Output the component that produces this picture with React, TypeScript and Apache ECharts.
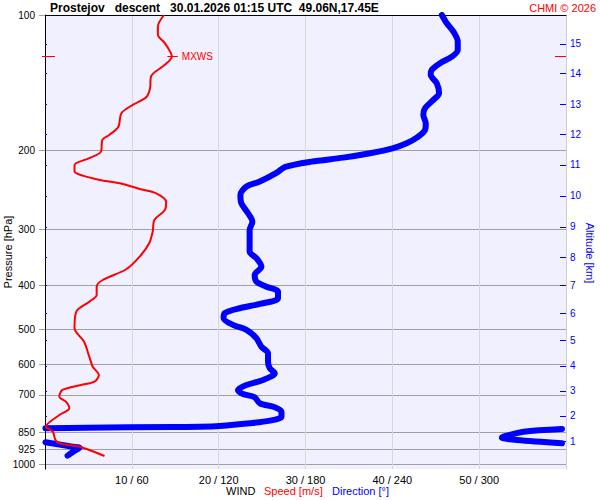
import React, { useEffect, useRef } from "react";
import * as echarts from "echarts";

// ---- data ----
const PRESSURE_TICKS = [100, 200, 300, 400, 500, 600, 700, 850, 925, 1000];
const SPEED_TICKS = [10, 20, 30, 40, 50];
const ALT_KM = [1, 2, 3, 4, 5, 6, 7, 8, 9, 10, 11, 12, 13, 14, 15];
const ALT_P = [890.2, 780.3, 686.6, 603.9, 530.5, 461.0, 400.4, 346.7, 296.2, 252.7, 215.6, 184.2, 157.9, 134.7, 116.0];

const SPEED_P = [100, 106.1, 110.7, 115.5, 121.6, 123.8, 129.1, 137.1, 145.5, 152.4, 158.5, 165.4, 177.2, 184.9, 189.7, 201.4, 208.3, 215.6, 223.1, 227.8, 232.8, 236.8, 243.8, 249.3, 260.3, 271.6, 285.8, 303.5, 322.0, 344.9, 368.0, 388.8, 402.3, 419.8, 434.5, 457.3, 497.9, 533.4, 575.9, 606.2, 632.4, 654.5, 665.7, 683.0, 706.9, 725.3, 750.2, 776.5, 824.5, 845.8, 882.6, 897.5, 913.3, 928.9, 957.9];
const SPEED = [13.7, 13.0, 13.0, 13.8, 14.5, 14.6, 13.8, 12.2, 12.1, 11.65, 10.1, 8.8, 8.45, 7.4, 6.6, 6.45, 5.1, 3.4, 3.4, 4.35, 6.3, 8.6, 10.9, 12.8, 13.95, 13.8, 12.6, 12.4, 12.0, 10.9, 9.35, 6.65, 5.95, 5.95, 5.1, 3.6, 3.4, 4.5, 5.1, 5.5, 6.2, 5.7, 4.15, 2.0, 1.65, 2.4, 2.8, 1.65, 0.1, 0.9, 1.2, 1.65, 4.0, 5.1, 6.85];

const DIR_P = [100, 104.3, 108.9, 114.6, 119.6, 123.8, 128.0, 132.5, 135.9, 141.8, 149.3, 154.5, 161.2, 166.9, 174.1, 180.2, 187.5, 192.9, 198.0, 203.0, 207.7, 212.0, 217.8, 224.6, 234.8, 240.9, 251.4, 262.5, 276.1, 288.3, 300.9, 316.7, 336.2, 347.8, 363.1, 378.9, 392.1, 402.3, 412.7, 426.8, 439.5, 449.3, 461.0, 472.9, 489.4, 502.1, 524.0, 547.1, 565.9, 590.8, 611.1, 627.1, 648.9, 665.7, 683.0, 697.2, 709.1, 731.2, 746.4, 763.4, 783.2, 799.4, 810.2, 821.4, 824.5, 825.6, 828.6, 831.2, null, 833.9, 845.8, 867.7, 872.3, 882.6, 897.5, null, 893.0, 913.3, 918.0, 937.0, 956.4];
const DIR = [274.2, 277.6, 282.2, 285.2, 285.2, 281.1, 273.0, 267.2, 266.5, 270.7, 272.3, 268.3, 262.6, 261.4, 263.1, 262.6, 256.9, 249.9, 240.2, 224.5, 206.0, 184.0, 166.0, 159.9, 148.4, 139.2, 135.0, 135.7, 140.3, 143.3, 141.4, 141.4, 141.4, 146.1, 149.5, 144.9, 146.1, 153.0, 161.0, 161.0, 148.4, 134.5, 124.1, 123.4, 129.9, 139.2, 146.1, 149.5, 154.1, 154.1, 155.3, 158.8, 150.7, 139.2, 133.3, 136.8, 144.9, 148.4, 158.8, 163.4, 163.4, 155.3, 141.4, 120.7, 106.8, 88.3, 28.4, 0.3, null, 357.2, 330.7, 316.8, 315.7, 326.1, 357.2, null, 0.3, 19.1, 23.8, 19.5, 15.6];

const P_TOP = 100;
const P_BOTTOM = 1024;
const SPEED_MAX = 60;
const DIR_MAX = 360;

const TITLE = "Prostejov   descent   30.01.2026 01:15 UTC  49.06N,17.45E";
const CREDIT = "CHMI \u00a9 2026";

const RED = "#ff0000";
const BLUE = "#0000ff";
const FONT = "Liberation Sans, Arial, sans-serif";

const lg = (p: number) => Math.log10(p);

export default function App() {
  const ref = useRef<HTMLDivElement>(null);

  useEffect(() => {
    const chart = echarts.init(ref.current!, null, { renderer: "svg" });

    // max wind
    let mi = 0;
    SPEED.forEach((v, i) => {
      if (v > SPEED[mi]) mi = i;
    });
    const mxV = SPEED[mi];
    const mxL = lg(SPEED_P[mi]);

    const speedData = SPEED.map((v, i) => [v, lg(SPEED_P[i])]);
    const dirData = DIR.map((d, i) => (d === null || DIR_P[i] === null ? ["-", "-"] : [d, lg(DIR_P[i] as number)]));

    const altLogs = ALT_P.map(lg);
    const presLogs = PRESSURE_TICKS.map(lg);

    const yBase = {
      type: "value",
      inverse: true,
      min: lg(P_TOP),
      max: lg(P_BOTTOM),
      splitLine: { show: false },
      axisLabel: { show: false },
      axisLine: { show: false },
      axisTick: { show: false },
    };

    const option: any = {
      animation: false,
      backgroundColor: "#ffffff",
      textStyle: { fontFamily: FONT },
      grid: {
        left: 45,
        right: 34,
        top: 15,
        bottom: 31,
        show: true,
        backgroundColor: "#f0f0ff",
        borderWidth: 0,
      },
      xAxis: [
        {
          type: "value",
          min: 0,
          max: SPEED_MAX,
          interval: 10,
          position: "bottom",
          axisLine: { show: false },
          axisTick: { show: false },
          splitLine: { show: true, lineStyle: { color: "#d8d8d8", width: 1 } },
          axisLabel: {
            customValues: SPEED_TICKS,
            formatter: (v: number) => `${v} / ${v * 6}`,
            color: "#000",
            fontSize: 11,
            fontFamily: FONT,
            margin: 5,
          },
        },
        {
          type: "value",
          min: 0,
          max: DIR_MAX,
          interval: 60,
          position: "top",
          axisLine: { show: true, onZero: false, lineStyle: { color: "#000", width: 1 } },
          axisTick: { show: false },
          axisLabel: { show: false },
          splitLine: { show: false },
        },
      ],
      yAxis: [
        {
          ...yBase,
          position: "left",
          axisLine: { show: true, onZero: false, lineStyle: { color: "#000", width: 1 } },
          axisTick: { show: true, customValues: presLogs, length: 6, lineStyle: { color: "#a0a0a0" } },
          axisLabel: {
            show: true,
            customValues: presLogs,
            formatter: (v: number) => String(Math.round(Math.pow(10, v))),
            color: "#000",
            fontSize: 10,
            fontFamily: FONT,
            margin: 10,
          },
          splitLine: { show: true, lineStyle: { color: "#a0a0a0", width: 1 } },
        },
        {
          ...yBase,
          position: "right",
          axisLine: { show: true, onZero: false, lineStyle: { color: "#d0d0d0", width: 1 } },
          axisTick: { show: true, inside: true, customValues: altLogs, length: 6, lineStyle: { color: BLUE } },
          axisLabel: {
            show: true,
            customValues: altLogs,
            formatter: (v: number) => {
              const k = altLogs.findIndex((a) => Math.abs(a - v) < 1e-6);
              return k >= 0 ? String(ALT_KM[k]) : "";
            },
            color: BLUE,
            fontSize: 10,
            fontFamily: FONT,
            margin: 4,
          },
        },
        {
          ...yBase,
          position: "right",
          axisTick: { show: true, inside: false, customValues: altLogs, length: 2, lineStyle: { color: BLUE } },
        },
        {
          ...yBase,
          position: "left",
          axisTick: { show: true, inside: true, customValues: [mxL], length: 10, lineStyle: { color: RED } },
        },
        {
          ...yBase,
          position: "left",
          axisTick: { show: true, inside: false, customValues: [mxL], length: 3, lineStyle: { color: RED } },
        },
        {
          ...yBase,
          position: "right",
          axisTick: { show: true, inside: true, customValues: [mxL], length: 11, lineStyle: { color: RED } },
        },
      ],
      series: [
        {
          name: "Direction",
          type: "line",
          xAxisIndex: 1,
          yAxisIndex: 0,
          data: dirData,
          showSymbol: false,
          connectNulls: false,
          smooth: 0.3,
          lineStyle: { color: BLUE, width: 6, cap: "round", join: "round" },
          silent: true,
        },
        {
          name: "Speed",
          type: "line",
          xAxisIndex: 0,
          yAxisIndex: 0,
          data: speedData,
          showSymbol: false,
          smooth: 0.3,
          lineStyle: { color: RED, width: 2, join: "round" },
          silent: true,
          markLine: {
            silent: true,
            symbol: ["none", "none"],
            lineStyle: { color: RED, width: 1, type: "solid" },
            label: {
              show: true,
              position: "end",
              formatter: "MXWS",
              color: RED,
              fontSize: 10,
              fontFamily: FONT,
              distance: 4,
            },
            data: [[{ coord: [mxV - 0.5, mxL] }, { coord: [mxV + 0.7, mxL] }]],
          },
        },
      ],
      graphic: [
        {
          type: "text",
          x: 50,
          y: 8,
          style: { text: TITLE, fill: "#000", font: `bold 12px ${FONT}`, textVerticalAlign: "middle", verticalAlign: "middle" },
        },
        {
          type: "text",
          x: 596,
          y: 8,
          style: { text: CREDIT, fill: RED, font: `11px ${FONT}`, textAlign: "right", align: "right", textVerticalAlign: "middle", verticalAlign: "middle" },
        },
        {
          type: "text",
          x: 7.5,
          y: 252,
          rotation: Math.PI / 2,
          style: { text: "Pressure [hPa]", fill: "#000", font: `11px ${FONT}`, textAlign: "center", align: "center", textVerticalAlign: "middle", verticalAlign: "middle" },
        },
        {
          type: "text",
          x: 589.5,
          y: 253,
          rotation: -Math.PI / 2,
          style: { text: "Altitude [km]", fill: BLUE, font: `11px ${FONT}`, textAlign: "center", align: "center", textVerticalAlign: "middle", verticalAlign: "middle" },
        },
        {
          type: "text",
          x: 226,
          y: 491,
          style: { text: "WIND", fill: "#000", font: `11px ${FONT}`, textVerticalAlign: "middle", verticalAlign: "middle" },
        },
        {
          type: "text",
          x: 264,
          y: 491,
          style: { text: "Speed [m/s]", fill: RED, font: `11px ${FONT}`, textVerticalAlign: "middle", verticalAlign: "middle" },
        },
        {
          type: "text",
          x: 332,
          y: 491,
          style: { text: "Direction [\u00b0]", fill: BLUE, font: `11px ${FONT}`, textVerticalAlign: "middle", verticalAlign: "middle" },
        },
      ],
    };

    chart.setOption(option);
    return () => chart.dispose();
  }, []);

  return <div ref={ref} style={{ position: "absolute", left: 0, top: 0, width: 600, height: 500 }} />;
}
